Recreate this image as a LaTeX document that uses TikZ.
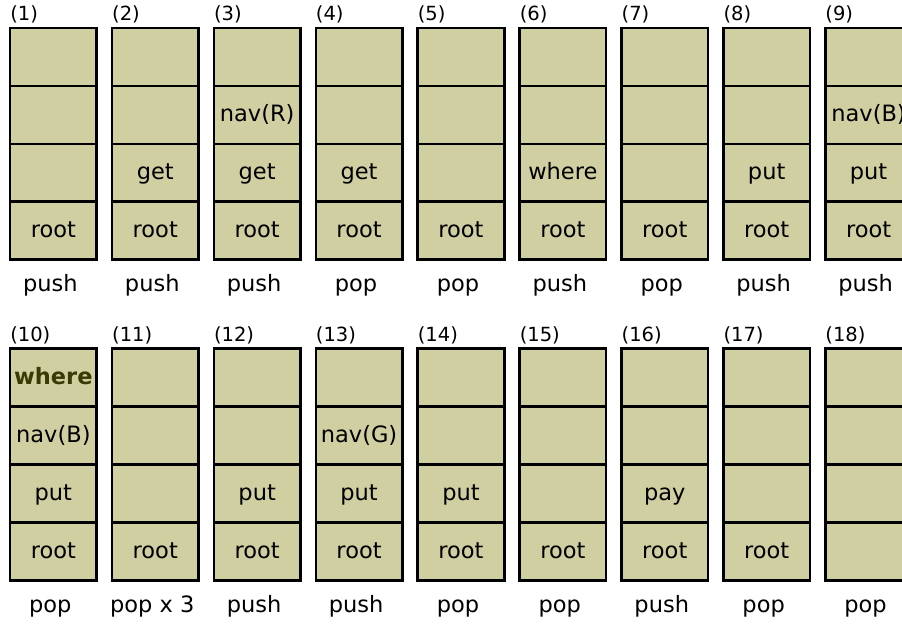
\documentclass[tikz,border=0pt]{standalone}
\usepackage{fontspec}
\setmainfont{DejaVu Sans}
\definecolor{cellfill}{RGB}{207,207,161}
\definecolor{wherecol}{RGB}{58,58,5}
\tikzset{
  cell/.style={draw=black, fill=cellfill, line width=2.6pt, minimum width=86.5pt,
    minimum height=57.9pt, inner sep=0pt, text height=18.5pt, text depth=4.9pt,
    font=\fontsize{22.5}{27}\selectfont},
  numlbl/.style={anchor=base west, inner sep=0pt, font=\fontsize{19.5}{23}\selectfont},
  oplbl/.style={anchor=base, inner sep=0pt, font=\fontsize{22.5}{27}\selectfont}
}
% #1 id, #2 centre x, #3 top y, #4..#7 cells top to bottom, #8 operation
\newcommand\stk[8]{%
  \node[cell] (s#1a) at (#2,#3+28.95) {#4};
  \node[cell] (s#1b) at (#2,#3+86.85) {#5};
  \node[cell] (s#1c) at (#2,#3+144.75) {#6};
  \node[cell] (s#1d) at (#2,#3+202.65) {#7};
  \node[numlbl] (s#1n) at (#2-43.3,#3-7.2) {(#1)};
  \node[oplbl] (s#1o) at (#2-3,#3+263.8) {#8};
}
\begin{document}
\begin{tikzpicture}[x=1pt,y=-1pt]
\useasboundingbox (0,0) rectangle (902,624);
\clip (0,0) rectangle (902,624);
\fill[white] (0,0) rectangle (902,624);
\stk{1}{53.35}{28}{}{}{}{root}{push}
\stk{2}{155.25}{28}{}{}{get}{root}{push}
\stk{3}{257.15}{28}{}{nav(R)}{get}{root}{push}
\stk{4}{359.05}{28}{}{}{get}{root}{pop}
\stk{5}{460.95}{28}{}{}{}{root}{pop}
\stk{6}{562.85}{28}{}{}{where}{root}{push}
\stk{7}{664.75}{28}{}{}{}{root}{pop}
\stk{8}{766.65}{28}{}{}{put}{root}{push}
\stk{9}{868.55}{28}{}{nav(B)}{put}{root}{push}
\stk{10}{53.35}{348.6}{\textcolor{wherecol}{\bfseries where}}{nav(B)}{put}{root}{pop}
\stk{11}{155.25}{348.6}{}{}{}{root}{pop x 3}
\stk{12}{257.15}{348.6}{}{}{put}{root}{push}
\stk{13}{359.05}{348.6}{}{nav(G)}{put}{root}{push}
\stk{14}{460.95}{348.6}{}{}{put}{root}{pop}
\stk{15}{562.85}{348.6}{}{}{}{root}{pop}
\stk{16}{664.75}{348.6}{}{}{pay}{root}{push}
\stk{17}{766.65}{348.6}{}{}{}{root}{pop}
\stk{18}{868.55}{348.6}{}{}{}{}{pop}
\end{tikzpicture}
\end{document}
